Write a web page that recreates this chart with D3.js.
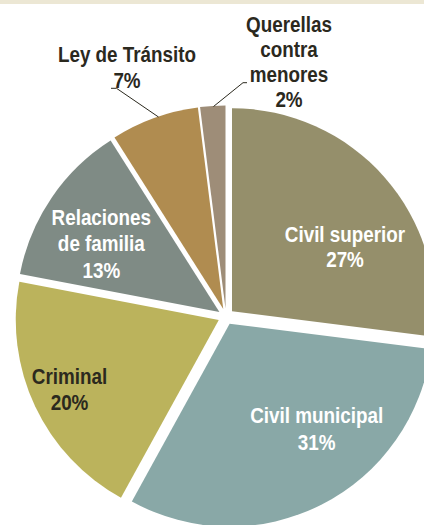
<!DOCTYPE html>
<html><head><meta charset="utf-8">
<script src="https://d3js.org/d3.v7.min.js"></script>
<style>html,body{margin:0;padding:0;background:#fff;}svg{display:block;}</style>
</head><body>
<svg id="chart" width="424" height="525"></svg>
<script>
// ---- data ----
const categories = ["Civil superior", "Civil municipal", "Criminal", "Relaciones de familia", "Ley de Tránsito", "Querellas contra menores"];
const values = [27, 31, 20, 13, 7, 2];
const labelLines = [["Civil superior"], ["Civil municipal"], ["Criminal"], ["Relaciones", "de familia"], ["Ley de Tránsito"], ["Querellas", "contra", "menores"]];
const colors = ["#958f6b", "#89a8a7", "#bbb35c", "#7f8b85", "#b08c50", "#9e8d78"];
const textColors = ["#ffffff", "#ffffff", "#2b291e", "#ffffff", "#2b291e", "#2b291e"];

// ---- layout ----
const W = 424, H = 525;
const cx = 226, cy = 316.5, R = 203, explode = 8;
const labelPos = [[345, 241.7], [316.7, 423.3], [69.5, 384], [101.3, 225], [127, 61.7], [289, 31.7]];
const lineH = [25.6, 26.7, 26, 26.5, 26.6, 25];
const leaders = [null, null, null, null,
  [[111, 88.3], [116.5, 88.3], [158.5, 117]],
  [[247, 82.7], [243, 82.7], [213.5, 106.5]]];

const svg = d3.select("#chart");
svg.append("rect").attr("x", 0).attr("y", 0).attr("width", W).attr("height", 4).attr("fill", "#ece7d4");

const pie = d3.pie().sort(null).value(d => d).startAngle(0).endAngle(2 * Math.PI);
const arcs = pie(values);
const arc = d3.arc().innerRadius(0).outerRadius(R);

const g = svg.append("g").attr("transform", `translate(${cx},${cy})`);
g.selectAll("path").data(arcs).join("path")
  .attr("d", arc)
  .attr("fill", (d, i) => colors[i])
  .attr("transform", d => {
    const m = (d.startAngle + d.endAngle) / 2;
    return `translate(${explode * Math.sin(m)},${-explode * Math.cos(m)})`;
  });

// font detection
function measure(fam, size) {
  const t = svg.append("text").attr("font-family", fam).attr("font-weight", "bold").attr("font-size", size).text("Civil municipal");
  const w = t.node().getComputedTextLength(); t.remove(); return w;
}
const wA = measure("'Liberation Sans Narrow', monospace", 22);
const wB = measure("monospace", 22);
const narrowOK = Math.abs(wA - wB) > 2;
const fam = narrowOK ? "'Liberation Sans Narrow'" : "'Liberation Sans', Arial, sans-serif";
const wF = measure(fam, 22);
const sx = 133 / wF;

// leaders
leaders.forEach(pts => {
  if (!pts) return;
  svg.append("path").attr("d", d3.line()(pts)).attr("fill", "none").attr("stroke", "#2b291e").attr("stroke-width", 1);
});

// labels
arcs.forEach((d, i) => {
  const lines = labelLines[i].concat([Math.round(values[i]) + "%"]);
  const [x, y] = labelPos[i];
  const t = svg.append("text")
    .attr("transform", `translate(${x},${y}) scale(${sx},1)`)
    .attr("text-anchor", "middle")
    .attr("font-family", fam).attr("font-weight", "bold").attr("font-size", 22)
    .attr("fill", textColors[i]);
  lines.forEach((s, k) => t.append("tspan").attr("x", 0).attr("y", k * lineH[i]).text(s));
});
</script>
</body></html>
